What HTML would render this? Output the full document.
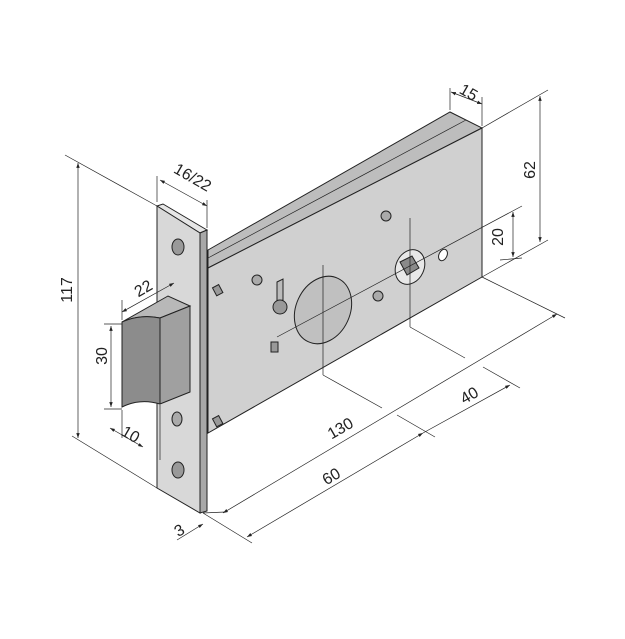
<!DOCTYPE html>
<html><head><meta charset="utf-8"><style>
html,body{margin:0;padding:0;background:#fff;}
svg{display:block;font-family:"Liberation Sans",sans-serif;}
</style></head><body>
<svg width="625" height="639" viewBox="0 0 625 639" xmlns="http://www.w3.org/2000/svg">
<defs>
<marker id="a" viewBox="0 0 10 10" refX="10" refY="5" markerWidth="7" markerHeight="7" orient="auto-start-reverse"><path d="M0,1.5 L10,5 L0,8.5z" fill="#222"/></marker>
</defs>
<g stroke="#222" stroke-width="1" fill="none">
<polygon points="208,250 450,112 482,128 208,268" fill="#bdbdbd"/>
<line x1="208" y1="258" x2="466" y2="120" stroke-width="0.7"/>
<polygon points="208,268 482,128 482,277 208,433" fill="#d0d0d0"/>
<rect x="214" y="286" width="7" height="9" fill="#999" transform="rotate(-28 217 290)"/>
<rect x="271" y="342" width="7" height="10" fill="#999"/>
<rect x="214" y="417" width="7" height="9" fill="#999" transform="rotate(-28 217 421)"/>
<circle cx="257" cy="280" r="5" fill="#aaa"/>
<circle cx="386" cy="216" r="5" fill="#aaa"/>
<circle cx="378" cy="296" r="5" fill="#aaa"/>
<ellipse cx="443" cy="255" rx="4" ry="6" fill="#fff" transform="rotate(25 443 255)"/>
<path d="M277,282 L283,279 L283,300 L277,303z" fill="#bbb"/>
<circle cx="280" cy="307" r="7" fill="#999"/>
<ellipse cx="323" cy="310" rx="27" ry="35" fill="#c0c0c0" transform="rotate(25 323 310)"/>
<ellipse cx="410" cy="267" rx="14" ry="18" fill="#e8e8e8" transform="rotate(25 410 267)"/>
<polygon points="400,262 412,256 419,268 407,275" fill="#8a8a8a"/>
<line x1="277" y1="337" x2="522" y2="206" stroke-width="0.7"/>
<line x1="323" y1="265" x2="323" y2="375" stroke-width="0.7"/>
<line x1="410" y1="218" x2="410" y2="327" stroke-width="0.7"/>
<polygon points="157,206 163,204 207,230 200,233" fill="#e6e6e6"/>
<polygon points="157,206 200,233 200,513 157,488" fill="#d8d8d8"/>
<polygon points="200,233 207,230 207,511 200,513" fill="#a8a8a8"/>
<ellipse cx="178" cy="247" rx="6" ry="8" fill="#999"/>
<ellipse cx="178" cy="470" rx="6" ry="8" fill="#999"/>
<ellipse cx="177" cy="419" rx="5" ry="7" fill="#aaa"/>
<path d="M122,322 L168,296 L190,306 L160,318 Q140,314 122,322z" fill="#b8b8b8"/>
<path d="M122,322 Q140,314 160,318 L160,404 Q140,398 122,407z" fill="#8c8c8c"/>
<path d="M160,318 L190,306 L190,392 L160,404z" fill="#a0a0a0"/>
<g stroke-width="0.7">
<line x1="65" y1="155" x2="157" y2="206"/>
<line x1="72" y1="436" x2="157" y2="488"/>
<line x1="78" y1="163" x2="78" y2="438" marker-start="url(#a)" marker-end="url(#a)"/>
<line x1="157" y1="202" x2="157" y2="176"/>
<line x1="207" y1="228" x2="207" y2="200"/>
<line x1="160" y1="180" x2="207" y2="206" marker-start="url(#a)" marker-end="url(#a)"/>
<line x1="104" y1="324" x2="122" y2="324"/>
<line x1="104" y1="409" x2="122" y2="409"/>
<line x1="111" y1="326" x2="111" y2="407" marker-start="url(#a)" marker-end="url(#a)"/>
<line x1="122" y1="300" x2="122" y2="320"/>
<line x1="122" y1="312" x2="174" y2="283" marker-start="url(#a)" marker-end="url(#a)"/>
<line x1="122" y1="410" x2="122" y2="438"/>
<line x1="160" y1="405" x2="160" y2="460"/>
<line x1="110" y1="428" x2="143" y2="447" marker-start="url(#a)" marker-end="url(#a)"/>
<line x1="450" y1="110" x2="450" y2="88"/>
<line x1="482" y1="126" x2="482" y2="97"/>
<line x1="451" y1="92" x2="482" y2="104" marker-start="url(#a)" marker-end="url(#a)"/>
<line x1="482" y1="128" x2="548" y2="90"/>
<line x1="482" y1="277" x2="548" y2="240"/>
<line x1="540" y1="96" x2="540" y2="242" marker-start="url(#a)" marker-end="url(#a)"/>
<line x1="500" y1="260" x2="522" y2="258"/>
<line x1="513" y1="212" x2="513" y2="257" marker-start="url(#a)" marker-end="url(#a)"/>
<line x1="482" y1="277" x2="565" y2="318"/>
<line x1="223" y1="513" x2="557" y2="314" marker-start="url(#a)" marker-end="url(#a)"/>
<line x1="203" y1="513" x2="252" y2="543"/>
<line x1="247" y1="537" x2="423" y2="433" marker-start="url(#a)" marker-end="url(#a)"/>
<line x1="423" y1="433" x2="510" y2="385" marker-end="url(#a)"/>
<line x1="323" y1="375" x2="382" y2="408"/>
<line x1="410" y1="327" x2="465" y2="358"/>
<line x1="397" y1="415" x2="435" y2="437"/>
<line x1="483" y1="367" x2="520" y2="388"/>
<line x1="177" y1="540" x2="203" y2="524" marker-end="url(#a)"/>
<line x1="203" y1="513" x2="225" y2="512"/>
</g>
</g>
<g fill="#222" font-size="16">
<text transform="translate(72,290) rotate(-90)" text-anchor="middle">117</text>
<text transform="translate(190,182) rotate(30)" text-anchor="middle">16/22</text>
<text transform="translate(107,356) rotate(-90)" text-anchor="middle">30</text>
<text transform="translate(146,293) rotate(-30)" text-anchor="middle">22</text>
<text transform="translate(128,439) rotate(30)" text-anchor="middle">10</text>
<text transform="translate(182,535) rotate(-30)" text-anchor="middle">3</text>
<text transform="translate(466,97) rotate(30)" text-anchor="middle">15</text>
<text transform="translate(535,170) rotate(-90)" text-anchor="middle">62</text>
<text transform="translate(503,237) rotate(-90)" text-anchor="middle">20</text>
<text transform="translate(343,433) rotate(-30)" text-anchor="middle">130</text>
<text transform="translate(334,481) rotate(-30)" text-anchor="middle">60</text>
<text transform="translate(472,400) rotate(-30)" text-anchor="middle">40</text>
</g>
</svg>
</body></html>
